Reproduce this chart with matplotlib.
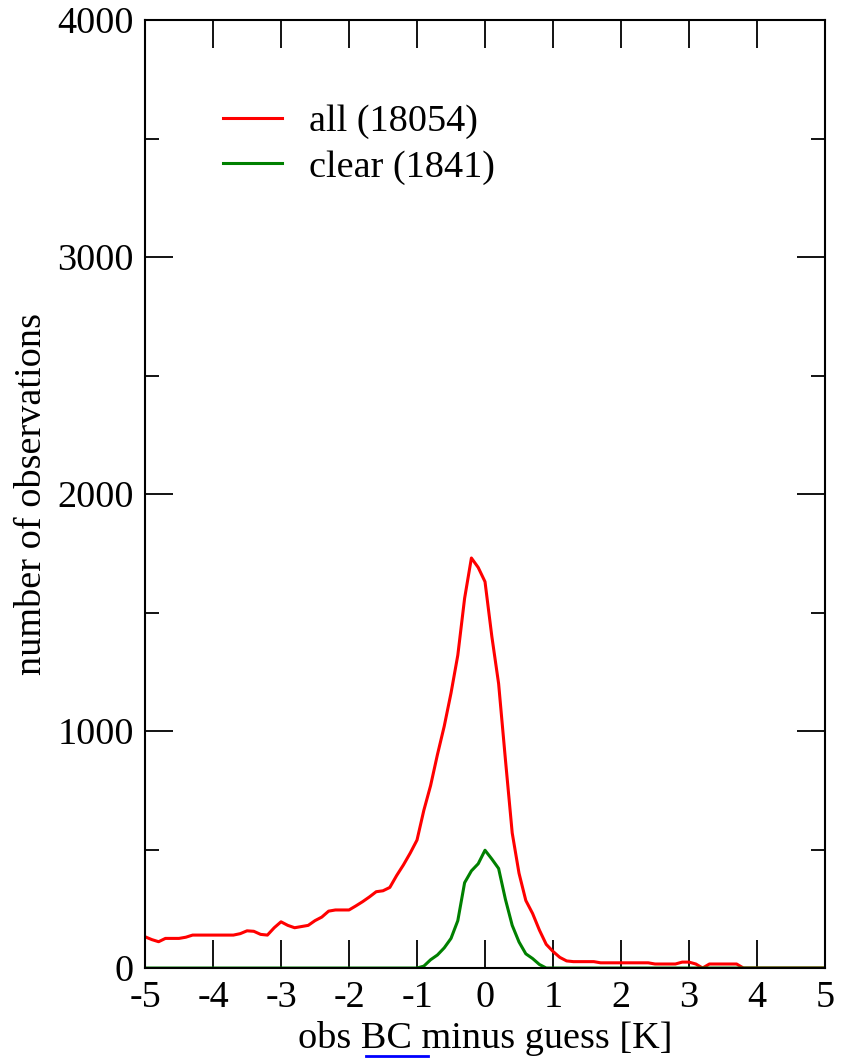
import numpy as np
import matplotlib.pyplot as plt
from matplotlib.lines import Line2D
from matplotlib.ticker import MultipleLocator

# departure bins (K), 0.1 wide
x = np.round(np.arange(-5.0, 5.01, 0.1), 1)

all_obs = [132, 120, 111, 125, 125, 125, 130, 139, 139, 139,    # -5.0 .. -4.1
           139, 139, 139, 139, 145, 157, 155, 142, 139, 170,    # -4.0 .. -3.1
           195, 180, 170, 175, 180, 200, 215, 240, 245, 245,    # -3.0 .. -2.1
           245, 262, 280, 300, 322, 326, 340, 390, 435, 485,    # -2.0 .. -1.1
           540, 665, 770, 900, 1020, 1160, 1320, 1560, 1730, 1690,  # -1.0 .. -0.1
           1630, 1400, 1200, 880, 570, 400, 285, 230, 160, 100,  # 0.0 .. 0.9
           70, 45, 30, 27, 27, 27, 27, 22, 22, 22,              # 1.0 .. 1.9
           22, 22, 22, 22, 22, 17, 17, 17, 17, 25,              # 2.0 .. 2.9
           25, 17, 0, 17, 17, 17, 17, 17, 0, 0,                 # 3.0 .. 3.9
           0, 0, 0, 0, 0, 0, 0, 0, 0, 0,                        # 4.0 .. 4.9
           0]                                                   # 5.0

clear_obs = [0] * 41 + [8, 35, 55, 85, 125, 200, 360, 410, 440,   # -0.9 .. -0.1
             497, 460, 420, 290, 180, 110, 60, 40, 15, 0] + [0] * 41

plt.rcParams['font.family'] = ['Liberation Serif', 'DejaVu Serif']
fs = 27.5

fig = plt.figure(figsize=(8.5, 10.59), dpi=100)
ax = fig.add_axes([0.1706, 0.0859, 0.8, 0.8952])

ax.plot(x, all_obs, color='#ff0000', lw=2.2, label='all (18054)')
ax.plot(x, clear_obs, color='#008000', lw=2.2, label='clear (1841)')

ax.set_xlim(-5, 5)
ax.set_ylim(0, 4000)
ax.xaxis.set_major_locator(MultipleLocator(1))
ax.yaxis.set_major_locator(MultipleLocator(1000))
ax.yaxis.set_minor_locator(MultipleLocator(500))
ax.tick_params(which='both', direction='in', top=True, right=True,
               labelsize=fs, width=1.3)
ax.tick_params(which='major', length=20)
ax.tick_params(which='minor', length=10)
ax.tick_params(axis='x', pad=9)
ax.tick_params(axis='y', pad=8)
for s in ax.spines.values():
    s.set_linewidth(1.5)

ax.set_xticks(range(-5, 6))
ax.set_xticklabels([str(i) for i in range(-5, 6)])

ax.set_xlabel('obs BC minus guess [K]', fontsize=fs, labelpad=4)
ax.set_ylabel('number of observations', fontsize=fs, labelpad=6)

ax.legend(loc='upper left', bbox_to_anchor=(0.1147, 0.911), frameon=False,
          fontsize=fs, handlelength=1.55, handletextpad=0.7, labelspacing=0.28,
          borderpad=0, borderaxespad=0)

# blue link underline under "BC"
fig.add_artist(Line2D([366 / 850, 428 / 850], [1 - 1056 / 1059] * 2,
                      color='#0000ff', lw=2, transform=fig.transFigure))

plt.savefig('out.png', dpi=100)
